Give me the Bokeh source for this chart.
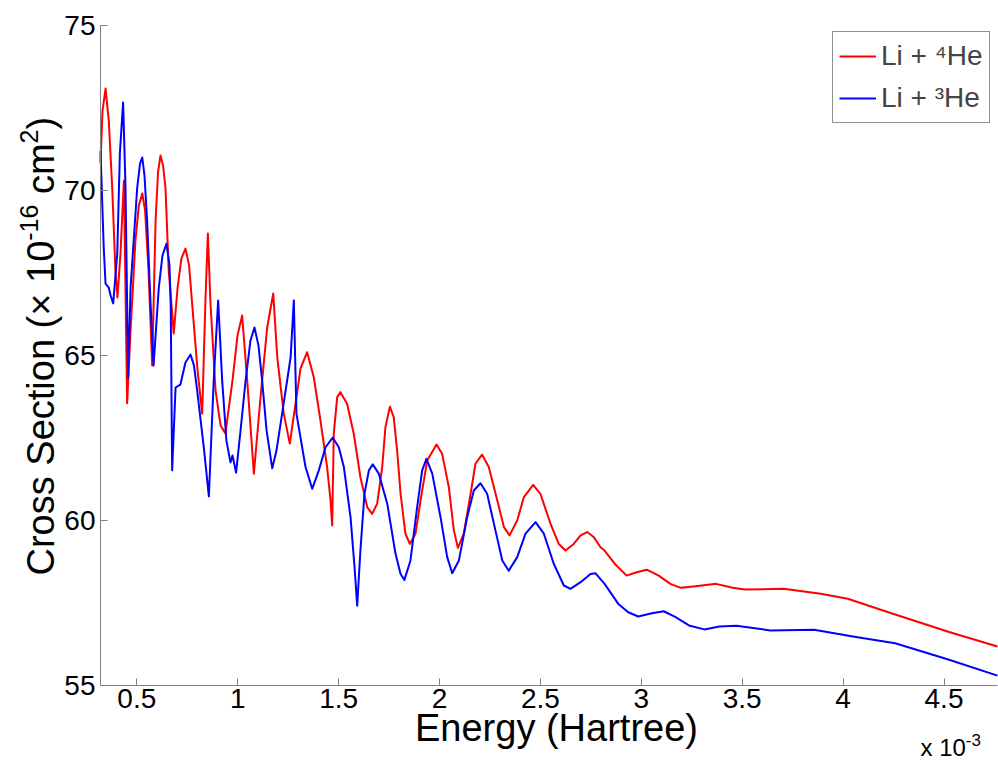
import math
from bokeh.plotting import figure
from bokeh.models import Label, Legend, LegendItem, Range1d, FixedTicker
from bokeh.embed import file_html
from bokeh.resources import INLINE
from bokeh.core.properties import value

# ---------------- data (energy in units of 1e-3 Hartree, cross section in 1e-16 cm^2)
li_he4 = [(0.320, 70.85), (0.330, 72.42), (0.345, 73.09), (0.361, 72.12), (0.378, 70.09),
          (0.394, 67.58), (0.404, 66.76), (0.419, 68.09), (0.436, 70.30), (0.452, 63.55),
          (0.469, 65.76), (0.493, 68.48), (0.510, 69.55), (0.527, 69.91), (0.541, 69.39),
          (0.558, 67.58), (0.576, 64.70), (0.593, 69.09), (0.605, 70.55), (0.617, 71.06),
          (0.630, 70.76), (0.642, 70.09), (0.658, 67.58), (0.683, 65.67), (0.702, 67.06),
          (0.721, 67.94), (0.741, 68.24), (0.759, 67.73), (0.774, 66.58), (0.801, 64.55),
          (0.824, 63.24), (0.840, 66.67), (0.852, 68.70), (0.865, 66.58), (0.890, 63.94),
          (0.915, 62.88), (0.939, 62.64), (0.974, 64.24), (0.999, 65.61), (1.022, 66.21),
          (1.047, 64.24), (1.080, 61.42), (1.113, 63.73), (1.146, 65.85), (1.176, 66.88),
          (1.196, 64.94), (1.228, 63.24), (1.258, 62.33), (1.295, 63.90), (1.311, 64.60),
          (1.344, 65.10), (1.377, 64.34), (1.410, 63.03), (1.443, 61.62), (1.460, 60.61),
          (1.468, 59.85), (1.476, 62.63), (1.493, 63.74), (1.509, 63.89), (1.542, 63.54),
          (1.575, 62.63), (1.608, 61.31), (1.642, 60.40), (1.666, 60.20), (1.691, 60.51),
          (1.716, 61.62), (1.732, 62.83), (1.754, 63.45), (1.773, 63.13), (1.790, 62.12),
          (1.807, 60.81), (1.831, 59.60), (1.853, 59.29), (1.881, 59.60), (1.906, 60.61),
          (1.939, 61.82), (1.985, 62.30), (2.013, 62.02), (2.046, 61.01), (2.071, 59.70),
          (2.091, 59.17), (2.120, 59.60), (2.154, 60.81), (2.178, 61.72), (2.211, 62.00),
          (2.244, 61.62), (2.286, 60.61), (2.319, 59.80), (2.347, 59.55), (2.385, 60.00),
          (2.418, 60.71), (2.464, 61.08), (2.500, 60.81), (2.550, 59.90), (2.591, 59.29),
          (2.624, 59.09), (2.665, 59.29), (2.699, 59.55), (2.732, 59.65), (2.765, 59.49),
          (2.798, 59.19), (2.818, 59.09), (2.868, 58.69), (2.927, 58.33), (2.977, 58.43),
          (3.027, 58.51), (3.086, 58.33), (3.144, 58.08), (3.195, 57.96), (3.270, 58.01),
          (3.370, 58.08), (3.454, 57.96), (3.513, 57.91), (3.705, 57.93), (3.889, 57.78),
          (4.023, 57.63), (4.224, 57.22), (4.525, 56.62), (4.765, 56.18)]

li_he3 = [(0.320, 71.20), (0.336, 68.27), (0.345, 67.18), (0.361, 67.06), (0.370, 66.82),
          (0.383, 66.58), (0.403, 68.09), (0.416, 71.12), (0.432, 72.67), (0.444, 70.09),
          (0.457, 64.33), (0.469, 67.06), (0.502, 70.09), (0.516, 70.82), (0.527, 71.00),
          (0.538, 70.45), (0.551, 69.09), (0.568, 66.58), (0.583, 64.70), (0.609, 67.06),
          (0.627, 68.03), (0.647, 68.39), (0.662, 67.73), (0.668, 66.50), (0.675, 61.52),
          (0.692, 64.03), (0.716, 64.12), (0.741, 64.79), (0.766, 65.03), (0.783, 64.70),
          (0.799, 63.94), (0.832, 62.21), (0.857, 60.73), (0.881, 64.24), (0.903, 66.67),
          (0.923, 64.24), (0.944, 62.42), (0.964, 61.76), (0.974, 61.97), (0.992, 61.45),
          (1.014, 62.73), (1.039, 64.24), (1.063, 65.45), (1.083, 65.85), (1.103, 65.30),
          (1.121, 64.24), (1.143, 62.73), (1.171, 61.58), (1.192, 62.12), (1.220, 63.24),
          (1.262, 64.94), (1.278, 66.67), (1.291, 63.24), (1.311, 62.52), (1.336, 61.62),
          (1.369, 60.96), (1.402, 61.52), (1.435, 62.22), (1.471, 62.51), (1.501, 62.22),
          (1.526, 61.62), (1.559, 60.10), (1.579, 58.58), (1.592, 57.42), (1.608, 59.09),
          (1.628, 60.81), (1.650, 61.52), (1.669, 61.70), (1.699, 61.42), (1.741, 60.51),
          (1.782, 58.99), (1.807, 58.38), (1.826, 58.20), (1.856, 58.79), (1.889, 60.40),
          (1.914, 61.52), (1.935, 61.87), (1.964, 61.42), (2.005, 60.10), (2.038, 58.89),
          (2.063, 58.40), (2.096, 58.79), (2.137, 60.10), (2.170, 60.91), (2.203, 61.13),
          (2.236, 60.81), (2.277, 59.70), (2.311, 58.79), (2.343, 58.48), (2.385, 58.89),
          (2.426, 59.60), (2.476, 59.95), (2.517, 59.60), (2.566, 58.69), (2.616, 58.03),
          (2.649, 57.93), (2.699, 58.13), (2.748, 58.38), (2.773, 58.40), (2.818, 58.08),
          (2.885, 57.48), (2.935, 57.22), (2.985, 57.09), (3.052, 57.19), (3.111, 57.25),
          (3.170, 57.07), (3.236, 56.82), (3.312, 56.70), (3.387, 56.79), (3.471, 56.81),
          (3.554, 56.74), (3.638, 56.67), (3.856, 56.69), (4.056, 56.48), (4.258, 56.28),
          (4.525, 55.78), (4.765, 55.30)]

energy_he4 = [e for e, s in li_he4]
sigma_he4 = [s for e, s in li_he4]
energy_he3 = [e for e, s in li_he3]
sigma_he3 = [s for e, s in li_he3]

series_labels = ["Li + \u2074He", "Li + \u00b3He"]
x_ticks = [0.5, 1, 1.5, 2, 2.5, 3, 3.5, 4, 4.5]
x_tick_labels = ["0.5", "1", "1.5", "2", "2.5", "3", "3.5", "4", "4.5"]
y_ticks = [55, 60, 65, 70, 75]
x_limits = (0.32, 4.765)
y_limits = (55, 75)

# ---------------- layout: the frame fills the canvas; axes sit at fixed data locations
W, H = 998, 761
AX_L, AX_R, AX_T, AX_B = 100, 997, 25, 685      # pixel box of the axes area
FONT = "Liberation Sans"
BASE_FIX = 0.42   # renderer puts the alphabetic baseline ~0.42 em lower than asked

KX = (AX_R - AX_L) / (x_limits[1] - x_limits[0])
KY = (AX_B - AX_T) / (y_limits[1] - y_limits[0])
xa = x_limits[0] - AX_L / KX
xb = xa + W / KX
yb = y_limits[1] + AX_T / KY
ya = yb - H / KY

def dx(px):
    return xa + px / KX

def dy(py):
    return yb - py / KY

p = figure(width=W, height=H, x_range=Range1d(xa, xb), y_range=Range1d(ya, yb),
           output_backend="svg", toolbar_location=None,
           min_border_left=0, min_border_right=0, min_border_top=0, min_border_bottom=0)
p.outline_line_color = None
p.grid.visible = False
p.background_fill_color = "white"
p.border_fill_color = "white"

for ax in (p.xaxis[0], p.yaxis[0]):
    ax.axis_line_color = "#808080"
    ax.axis_line_width = 1
    ax.major_tick_line_color = "#808080"
    ax.major_tick_in = 7
    ax.major_tick_out = 0
    ax.minor_tick_line_color = None
    ax.major_label_text_font = FONT
    ax.major_label_text_font_size = "28px"
    ax.major_label_text_color = "black"

p.xaxis.fixed_location = y_limits[0]
p.xaxis.bounds = x_limits
p.xaxis.ticker = FixedTicker(ticks=x_ticks)
p.xaxis.major_label_overrides = {(int(t) if float(t).is_integer() else t): s
                                 for t, s in zip(x_ticks, x_tick_labels)}
p.xaxis.major_label_standoff = 3
p.yaxis.fixed_location = x_limits[0]
p.yaxis.bounds = y_limits
p.yaxis.ticker = FixedTicker(ticks=y_ticks)
p.yaxis.major_label_standoff = 5

r4 = p.line(energy_he4, sigma_he4, line_color="#ff0000", line_width=2,
            line_join="round")
r3 = p.line(energy_he3, sigma_he3, line_color="#0000ff", line_width=2,
            line_join="round")

legend = Legend(items=[LegendItem(label=value(series_labels[0]), renderers=[r4]),
                       LegendItem(label=value(series_labels[1]), renderers=[r3])],
                location=(832, H - 123), orientation="vertical",
                border_line_color="#202020", border_line_width=1,
                background_fill_color="white", background_fill_alpha=1,
                label_text_font=FONT, label_text_font_size="28px",
                glyph_width=37, glyph_height=36, label_height=36,
                label_standoff=5, spacing=6, padding=6, margin=0)
p.add_layout(legend)

AW = {'C': 722, 'r': 333, 'o': 556, 's': 500, ' ': 278, 'S': 667, 'e': 556, 'c': 500,
      't': 278, 'i': 222, 'n': 556, '(': 333, ')': 333, '\u00d7': 584, '1': 556,
      '0': 556, '-': 333, '6': 556, 'm': 833, '2': 556, 'x': 500, '3': 556}

def tw(s, size):
    return sum(AW[c] for c in s) * size / 1000.0

def hlabel(px, py_base, txt, size, align="left"):
    p.add_layout(Label(x=dx(px), y=dy(py_base - BASE_FIX * size), text=txt,
                       text_font=FONT, text_font_size=f"{size}px", text_color="black",
                       text_align=align, text_baseline="alphabetic"))

# y axis label with superscripts, rotated (baseline is a vertical line at px 56)
pieces = [("Cross Section (\u00d7 10", 38, 0), ("-16", 25, 17), (" cm", 38, 0),
          ("2", 25, 17), (")", 38, 0)]
pos = 575
for txt, size, shift in pieces:
    lead = len(txt) - len(txt.lstrip(" "))
    pos -= tw(" " * lead, size)
    body = txt.lstrip(" ")
    base_px = 56 - shift - BASE_FIX * size
    p.add_layout(Label(x=dx(base_px), y=dy(pos), text=body, angle=math.pi / 2,
                       text_font=FONT, text_font_size=f"{size}px", text_color="black",
                       text_align="left", text_baseline="alphabetic"))
    pos -= tw(body, size)

# x axis label
hlabel(556, 743, "Energy (Hartree)", 38, align="center")

# x multiplier "x 10^-3"
mx = 920
hlabel(mx, 757, "x 10", 24)
hlabel(mx + tw("x 10", 24), 747, "-3", 17)

open("out.html", "w").write(file_html(p, INLINE))
